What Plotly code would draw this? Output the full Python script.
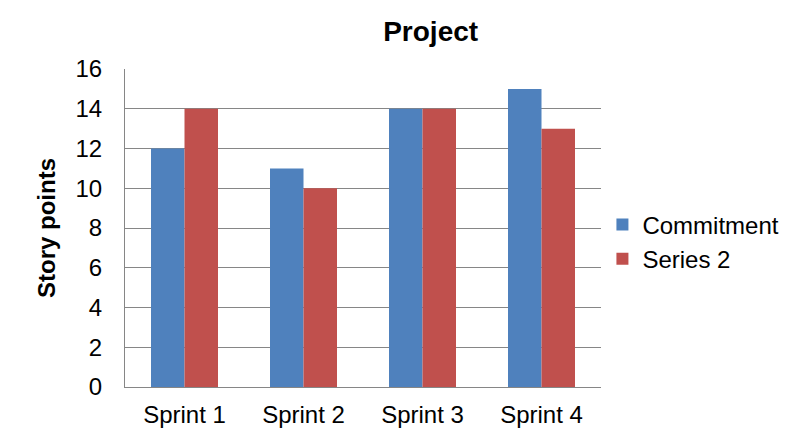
import plotly.graph_objects as go

categories = ["Sprint 1", "Sprint 2", "Sprint 3", "Sprint 4"]
commitment = [12, 11, 14, 15]
series2 = [14, 10, 14, 13]

FONT = "Liberation Sans, Arial, sans-serif"

fig = go.Figure()
fig.add_trace(go.Bar(name="Commitment", x=categories, y=commitment,
                     marker=dict(color="#4F81BD", line=dict(width=0))))
fig.add_trace(go.Bar(name="Series 2", x=categories, y=series2,
                     marker=dict(color="#C0504D", line=dict(width=0))))

fig.update_layout(
    width=799, height=439,
    margin=dict(l=117, r=206, t=61, b=60),
    paper_bgcolor="white", plot_bgcolor="white",
    barmode="group", bargap=0.437, bargroupgap=0,
    font=dict(family=FONT, size=24, color="black"),
    title=dict(text="<b>Project</b>", x=0.529, xref="container", xanchor="center",
               y=0.948, yref="container", yanchor="middle",
               font=dict(size=28, family=FONT, color="black")),
    legend=dict(x=1.003, xanchor="left", y=0.456, yanchor="middle",
                font=dict(size=24, family=FONT), bgcolor="rgba(0,0,0,0)",
                traceorder="normal"),
    showlegend=True,
)
fig.update_xaxes(showline=True, linecolor="#868686", linewidth=1,
                 showgrid=False, ticks="", ticklabelstandoff=6,
                 tickfont=dict(size=24, family=FONT))
fig.update_yaxes(range=[0, 16], dtick=2, showline=True, linecolor="#868686",
                 linewidth=1, showgrid=True, gridcolor="#868686", gridwidth=1,
                 zeroline=False, ticks="", ticklabelstandoff=17,
                 tickfont=dict(size=24, family=FONT),
                 title=dict(text="<b>Story points</b>", standoff=13,
                            font=dict(size=24, family=FONT)))

fig.write_html("out.html")
